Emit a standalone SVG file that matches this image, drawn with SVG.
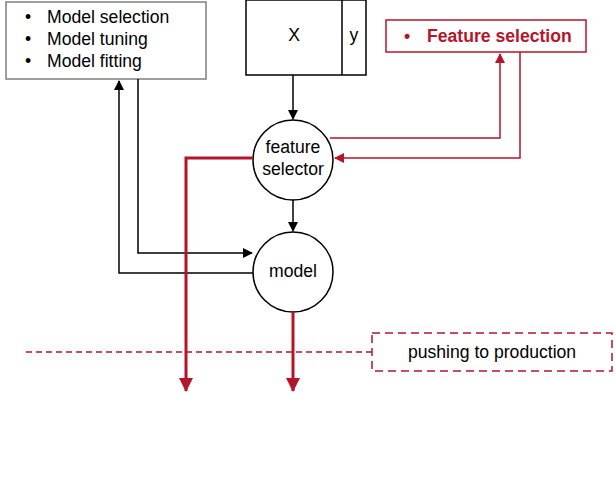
<svg xmlns="http://www.w3.org/2000/svg" width="616" height="480" viewBox="0 0 616 480">
<style>
text{font-family:"Liberation Sans",Arial,sans-serif;font-size:17.6px;fill:#000}
.r{fill:#b5152b}
.k{stroke:#000;stroke-width:1.5;fill:none}
.rl{stroke:#b5152b;stroke-width:1.5;fill:none}
.rt{stroke:#b5152b;stroke-width:3;fill:none}
</style>
<defs>
<marker id="ak" markerWidth="10" markerHeight="10" refX="9" refY="5" orient="auto" markerUnits="userSpaceOnUse"><path d="M0,0L10,5L0,10z" fill="#000"/></marker>
<marker id="ar" markerWidth="10" markerHeight="10" refX="9" refY="5" orient="auto" markerUnits="userSpaceOnUse"><path d="M0,0L10,5L0,10z" fill="#b5152b"/></marker>
<marker id="art" markerWidth="14" markerHeight="14" refX="13" refY="7" orient="auto" markerUnits="userSpaceOnUse"><path d="M0,0L14,7L0,14z" fill="#b5152b"/></marker>
</defs>
<g id="tasks"><rect x="6" y="2" width="200" height="77" fill="#fff" stroke="#7f7f7f" stroke-width="1.5"/>
<text x="25" y="23">•</text><text x="47" y="23">Model selection</text>
<text x="25" y="45">•</text><text x="47" y="45">Model tuning</text>
<text x="25" y="67">•</text><text x="47" y="67">Model fitting</text></g>
<g id="data"><rect x="246" y="0" width="120" height="75" fill="#fff" stroke="#000" stroke-width="1.5"/><line x1="342" y1="0" x2="342" y2="75" stroke="#000" stroke-width="1.5"/>
<text x="294" y="41" text-anchor="middle">X</text><text x="354" y="41" text-anchor="middle">y</text></g>
<g id="fsel"><rect x="386" y="20" width="200" height="32" fill="#fff" stroke="#b5152b" stroke-width="1.5"/>
<text x="404" y="42" class="r" font-weight="bold">•</text><text x="427" y="42" class="r" font-weight="bold">Feature selection</text></g>
<g id="selector"><circle cx="293" cy="160" r="40" fill="#fff" stroke="#000" stroke-width="1.5"/>
<text x="293" y="153" text-anchor="middle">feature</text><text x="293" y="175" text-anchor="middle">selector</text></g>
<g id="model"><circle cx="293" cy="272" r="40" fill="#fff" stroke="#000" stroke-width="1.5"/>
<text x="293" y="277" text-anchor="middle">model</text></g>
<g id="prod"><rect x="372" y="333" width="240" height="38" fill="#fff" stroke="#b5152b" stroke-width="1.5" stroke-dasharray="8,5"/>
<text x="492" y="358" text-anchor="middle">pushing to production</text></g>
<g id="connectors">
<path class="k" d="M293,75V119" marker-end="url(#ak)"/>
<path class="k" d="M293,200V231" marker-end="url(#ak)"/>
<path class="k" d="M138,79V253H252" marker-end="url(#ak)"/>
<path class="k" d="M253,273H119V81" marker-end="url(#ak)"/>
<path class="rl" d="M330,138H500V54" marker-end="url(#ar)"/>
<path class="rl" d="M520,52V158H335" marker-end="url(#ar)"/>
<path class="rt" d="M253,158H186V391" marker-end="url(#art)"/>
<path class="rt" d="M293,312V391" marker-end="url(#art)"/>
<path class="rl" d="M26,352H372" stroke-dasharray="6,4"/>
</g>
</svg>
